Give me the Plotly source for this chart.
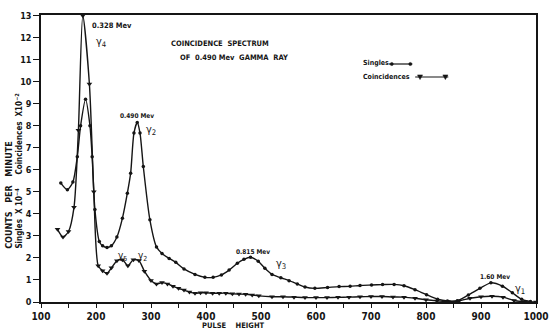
import plotly.graph_objects as go

# ---------------- data ----------------
singles_x = [136, 148, 158, 166, 172, 181, 189, 193, 198, 206, 212, 220, 228, 238, 248, 257, 263, 269, 275,
             280, 286, 298, 310, 320, 333, 345, 360, 380, 398, 413, 428, 442, 457, 469, 481, 495, 507,
             520, 536, 551, 566, 580, 598, 621, 642, 662, 680, 701, 721, 742, 760, 780, 801, 821, 839,
             857, 877, 898, 918, 939, 957, 974, 990]
singles_y = [5.4, 5.1, 5.45, 6.6, 8.0, 9.2, 8.0, 6.6, 4.2, 2.75, 2.55, 2.48, 2.55, 2.95, 3.8, 4.94, 5.85, 7.67, 8.15,
             7.67, 6.15, 3.73, 2.5, 2.2, 1.98, 1.8, 1.5, 1.25, 1.12, 1.12, 1.23, 1.45, 1.76, 1.94, 2.03, 1.85, 1.53,
             1.25, 1.1, 0.97, 0.82, 0.68, 0.62, 0.66, 0.7, 0.71, 0.75, 0.77, 0.79, 0.8, 0.74, 0.56, 0.33, 0.13, 0.05,
             0.06, 0.32, 0.62, 0.87, 0.72, 0.42, 0.12, 0.02]

coinc_x = [130, 140, 150, 160, 168, 176, 188, 196, 204, 212, 220, 228, 238, 248, 258, 268, 278, 288, 300,
           310, 320, 330, 340, 350, 360, 370, 380, 390, 400, 412, 424, 436, 448, 460, 472, 484, 496, 520,
           540, 560, 580, 600, 620, 640, 660, 680, 700, 720, 740, 760, 780, 800, 820, 840, 860, 880, 900,
           920, 940, 960, 980, 1000]
coinc_y = [3.3, 2.95, 3.2, 4.3, 7.8, 13.0, 9.9, 5.0, 1.65, 1.42, 1.3, 1.55, 1.87, 1.92, 1.65, 1.92, 1.88, 1.4, 0.98,
           0.82, 0.88, 0.82, 0.72, 0.62, 0.54, 0.45, 0.4, 0.42, 0.42, 0.4, 0.4, 0.4, 0.37, 0.36, 0.35, 0.32, 0.28, 0.24,
           0.24, 0.22, 0.2, 0.2, 0.2, 0.21, 0.22, 0.24, 0.25, 0.25, 0.23, 0.22, 0.17, 0.1, 0.05, 0.02, 0.05, 0.17, 0.24,
           0.26, 0.22, 0.07, 0.01, 0.0]

x_ticks = [100, 200, 300, 400, 500, 600, 700, 800, 900, 1000]
y_ticks = list(range(0, 14))

# ---------------- layout geometry ----------------
W, H = 556, 330
L, R, T, B = 41, 7, 15, 28
X0, X1 = 100, 1000
Y0, Y1 = 0, 13.03

def px2data(px, py):
    pw, ph = W - L - R, H - T - B
    return X0 + (px - L) / pw * (X1 - X0), Y1 - (py - T) / ph * (Y1 - Y0)

def px2paper(px, py):
    pw, ph = W - L - R, H - T - B
    return (px - L) / pw, 1 - (py - T) / ph

FONT = "Liberation Sans Narrow, DejaVu Sans Condensed, Arial Narrow, sans-serif"
INK = "#151515"

fig = go.Figure()
fig.add_trace(go.Scatter(x=singles_x, y=singles_y, mode="lines+markers", name="Singles",
                         line=dict(color=INK, width=1.4, shape="spline", smoothing=0.7),
                         marker=dict(symbol="circle", size=3.5, color=INK)))
fig.add_trace(go.Scatter(x=coinc_x, y=coinc_y, mode="lines+markers", name="Coincidences",
                         line=dict(color=INK, width=1.4, shape="spline", smoothing=0.7),
                         marker=dict(symbol="triangle-down", size=5, color=INK)))

ann = []
def text(px, py, s, size=8, xanchor="center", angle=0, weight="bold"):
    if angle:
        x, y = px2paper(px, py)
        ann.append(dict(x=x, y=y, xref="paper", yref="paper", text=s, showarrow=False,
                        textangle=angle, xanchor=xanchor, yanchor="middle",
                        font=dict(family=FONT, size=size, color=INK, weight=weight)))
    else:
        x, y = px2data(px, py)
        ann.append(dict(x=x, y=y, xref="x", yref="y", text=s, showarrow=False,
                        xanchor=xanchor, yanchor="middle",
                        font=dict(family=FONT, size=size, color=INK, weight=weight)))

text(91, 25, "0.328 Mev", 7.5, "left")
text(95, 42, "γ<sub>4</sub>", 11, "left", weight="normal")
text(140, 116, "0.490 Mev", 6.5)
text(147, 130, "γ<sub>2</sub>", 11, "left", weight="normal")
text(172, 43, "COINCIDENCE  SPECTRUM", 7.5, "left")
text(182, 57, "OF  0.490 Mev  GAMMA  RAY", 7.5, "left")
text(369, 63, "Singles", 7, "left")
text(369, 77, "Coincidences", 7, "left")
text(259, 252, "0.815 Mev", 6.5)
text(280, 264, "γ<sub>3</sub>", 11, "left", weight="normal")
text(118, 256, "γ<sub>5</sub>", 10, "left", weight="normal")
text(139, 256, "γ<sub>2</sub>", 10, "left", weight="normal")
text(507, 277, "1.60 Mev", 6.5)
text(525, 289, "γ<sub>1</sub>", 11, "left", weight="normal")

# axis titles
x, y = px2paper(239, 325.5)
ann.append(dict(x=x, y=y, xref="paper", yref="paper", text="PULSE    HEIGHT", showarrow=False,
                xanchor="center", yanchor="middle", font=dict(family=FONT, size=7.5, color=INK, weight="bold")))
text(8, 195, "COUNTS   PER   MINUTE", 9, "center", angle=-90)
text(18, 134, "Coincidences  X10<sup>−2</sup>", 8, "center", angle=-90)
text(18, 218, "Singles  X 10<sup>−4</sup>", 8, "center", angle=-90)

# legend symbols (decorative key)
shapes = []
def seg(x0, x1, py):
    a = px2paper(x0, py); b = px2paper(x1, py)
    shapes.append(dict(type="line", xref="paper", yref="paper", x0=a[0], y0=a[1], x1=b[0], y1=b[1],
                       line=dict(color=INK, width=1.2)))
def dot(px, py, r=1.6):
    a = px2paper(px - r, py + r); b = px2paper(px + r, py - r)
    shapes.append(dict(type="circle", xref="paper", yref="paper", x0=a[0], y0=a[1], x1=b[0], y1=b[1],
                       fillcolor=INK, line=dict(color=INK, width=0.5)))
def tri(px, py, s=2.6):
    p1 = px2paper(px - s, py - s * 0.8); p2 = px2paper(px + s, py - s * 0.8); p3 = px2paper(px, py + s)
    shapes.append(dict(type="path", xref="paper", yref="paper",
                       path=f"M {p1[0]} {p1[1]} L {p2[0]} {p2[1]} L {p3[0]} {p3[1]} Z",
                       fillcolor=INK, line=dict(color=INK, width=0.5)))
seg(398, 422, 64); dot(401, 64); dot(420, 64)
seg(425, 459, 77); tri(430, 77); tri(456, 77)

fig.update_layout(
    width=W, height=H, margin=dict(l=L, r=R, t=T, b=B, pad=0),
    paper_bgcolor="white", plot_bgcolor="white", showlegend=False,
    annotations=ann, shapes=shapes,
    xaxis=dict(range=[X0, X1], tickvals=x_ticks, ticks="outside", ticklen=4, tickwidth=1.2, tickcolor=INK,
               showline=True, linecolor=INK, linewidth=1.5, mirror=True, showgrid=False, zeroline=False,
               ticklabeloverflow="allow",
               tickfont=dict(family=FONT, size=10, color=INK, weight="bold"),
               minor=dict(dtick=50, tick0=100, ticks="outside", ticklen=4, tickwidth=1.2, tickcolor=INK)),
    yaxis=dict(range=[Y0, Y1], tickvals=y_ticks, ticks="outside", ticklen=6, tickwidth=1.2, tickcolor=INK,
               showline=True, linecolor=INK, linewidth=1.5, mirror=True, showgrid=False, zeroline=False,
               tickfont=dict(family=FONT, size=9, color=INK, weight="bold")),
)
fig.write_html("out.html")
